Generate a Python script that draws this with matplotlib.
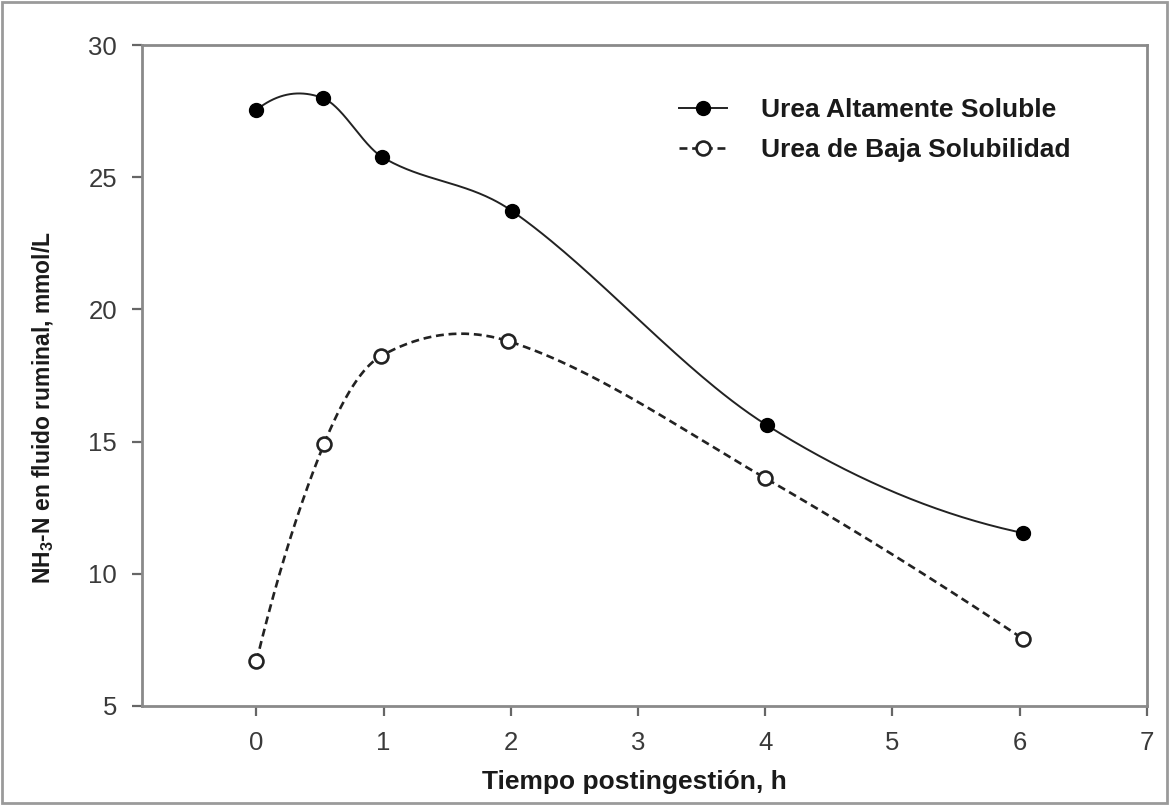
import numpy as np
import matplotlib
matplotlib.use("Agg")
import matplotlib.pyplot as plt
from matplotlib.patches import Rectangle

plt.rcParams['font.family'] = ['Liberation Sans', 'DejaVu Sans']
plt.rcParams['mathtext.fontset'] = 'custom'
plt.rcParams['mathtext.rm'] = 'Liberation Sans:bold'
plt.rcParams['mathtext.bf'] = 'Liberation Sans:bold'
plt.rcParams['mathtext.it'] = 'Liberation Sans:bold'

# Data
time_alta = [0.0, 0.52, 0.99, 2.01, 4.01, 6.03]
nh3_alta = [27.55, 28.0, 25.76, 23.72, 15.63, 11.54]
time_baja = [0.0, 0.53, 0.98, 1.98, 4.0, 6.03]
nh3_baja = [6.7, 14.9, 18.24, 18.8, 13.62, 7.53]
label_alta = "Urea Altamente Soluble"
label_baja = "Urea de Baja Solubilidad"
x_ticks = [0, 1, 2, 3, 4, 5, 6, 7]
y_ticks = [5, 10, 15, 20, 25, 30]


def smooth_curve(x, y, n=60):
    """Piecewise cubic Hermite curve through the data points (Catmull-Rom style)."""
    x = np.asarray(x, float)
    y = np.asarray(y, float)
    m = len(x)
    t = np.zeros(m)
    for i in range(1, m - 1):
        t[i] = (y[i + 1] - y[i - 1]) / (x[i + 1] - x[i - 1])
    # end tangents from parabola through the three end points
    s1 = (y[1] - y[0]) / (x[1] - x[0]); s2 = (y[2] - y[1]) / (x[2] - x[1])
    a = (s2 - s1) / (x[2] - x[0])
    t[0] = s1 - a * (x[1] - x[0])
    s1 = (y[-2] - y[-3]) / (x[-2] - x[-3]); s2 = (y[-1] - y[-2]) / (x[-1] - x[-2])
    a = (s2 - s1) / (x[-1] - x[-3])
    t[-1] = s2 + a * (x[-1] - x[-2])
    xs_all, ys_all = [], []
    for i in range(m - 1):
        h = x[i + 1] - x[i]
        u = np.linspace(0, 1, n)
        h00 = 2 * u**3 - 3 * u**2 + 1
        h10 = u**3 - 2 * u**2 + u
        h01 = -2 * u**3 + 3 * u**2
        h11 = u**3 - u**2
        xs_all.append(x[i] + u * h)
        ys_all.append(h00 * y[i] + h10 * h * t[i] + h01 * y[i + 1] + h11 * h * t[i + 1])
    return np.concatenate(xs_all), np.concatenate(ys_all)


fig = plt.figure(figsize=(11.69, 8.05), dpi=100)
fig.patches.append(Rectangle((0.002, 0.002), 0.996, 0.996, transform=fig.transFigure,
                             fill=False, edgecolor='#9a9a9a', linewidth=2))
ax = fig.add_axes([0.1215, 0.123, 0.8595, 0.821])

dash = (0, (3, 1.8))
xs, ys = smooth_curve(time_alta, nh3_alta)
ax.plot(xs, ys, color='#222222', lw=1.4, zorder=2)
ax.plot(time_alta, nh3_alta, 'o', color='black', ms=10, zorder=3)

xs, ys = smooth_curve(time_baja, nh3_baja)
ax.plot(xs, ys, color='#222222', lw=1.9, ls=dash, zorder=2)
ax.plot(time_baja, nh3_baja, 'o', mfc='white', mec='#222222', mew=1.9, ms=10, zorder=3)

# legend handles
h1, = ax.plot([], [], color='#222222', lw=1.4, marker='o', ms=10, mfc='black', mec='black')
h2, = ax.plot([], [], color='#222222', lw=1.9, ls=dash, marker='o', ms=10, mfc='white',
              mec='#222222', mew=1.9)
leg = ax.legend([h1, h2], [label_alta, label_baja], loc='upper left',
                bbox_to_anchor=(0.524, 0.936), frameon=False,
                prop={'weight': 'bold', 'size': 19}, handlelength=1.8,
                handletextpad=1.3, labelspacing=0.6, borderaxespad=0)
for t in leg.get_texts():
    t.set_color('#1a1a1a')

ax.set_xlim(-0.9, 7)
ax.set_ylim(5, 30)
ax.set_xticks(x_ticks)
ax.set_yticks(y_ticks)

for s in ax.spines.values():
    s.set_color('#8a8a8a')
    s.set_linewidth(2)
ax.tick_params(axis='both', direction='out', length=7, width=1.6, color='#666666',
               labelsize=18.5, labelcolor='#3a3a3a', pad=11)

ax.set_xlabel('Tiempo postingestión, h', fontsize=19, fontweight='bold', color='#1a1a1a')
ax.xaxis.set_label_coords(0.4905, -0.097)
ax.set_ylabel(r'NH$_{3}$-N en fluido ruminal, mmol/L', fontsize=16.5, fontweight='bold',
              color='#1a1a1a')
ax.yaxis.set_label_coords(-0.086, 0.452)

fig.savefig('out.png', dpi=100)
